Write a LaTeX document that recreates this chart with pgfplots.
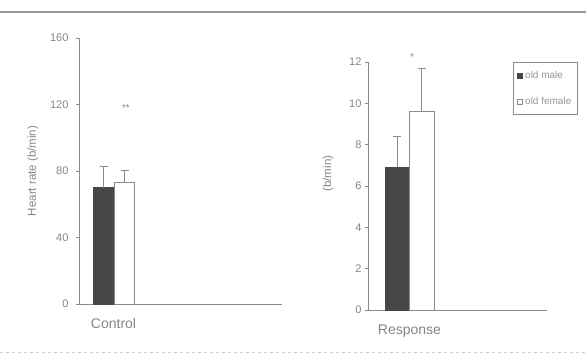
\documentclass[border=0pt]{standalone}
\usepackage{fontspec}
\setmainfont{Liberation Sans}
\usepackage{pgfplots}
\pgfplotsset{compat=1.18}

\definecolor{inkgray}{HTML}{858585}
\definecolor{axisgray}{HTML}{8A8A8A}
\definecolor{maledark}{HTML}{474747}
\definecolor{framegray}{HTML}{9A9A9A}

\pgfplotsset{
  panel/.style={
    scale only axis,
    axis lines*=left,
    axis line style={axisgray, line width=0.8pt},
    tick align=outside,
    major tick length=3pt,
    ytick style={axisgray, line width=0.8pt},
    xtick style={draw=none},
    xmin=0, ymin=0,
    clip=false,
    /pgf/number format/assume math mode=true,
    tick label style={font=\fontsize{11}{12}\selectfont, text=inkgray},
    xticklabel style={font=\fontsize{14}{15}\selectfont, text=inkgray, yshift=-8pt},
    ylabel style={font=\fontsize{11.5}{12}\selectfont, text=inkgray, anchor=center},
  },
  sdbar/.style={
    ybar, bar shift=0pt,
    error bars/y dir=plus, error bars/y explicit,
    error bars/error mark=-,
    error bars/error bar style={axisgray, line width=0.8pt},
    error bars/error mark options={axisgray, rotate=90, mark size=4pt, line width=0.9pt},
  },
}

\begin{document}
\begin{tikzpicture}[x=1pt,y=1pt]
% page rules
\draw[framegray, line width=1.5pt] (0,351) -- (586,351);
\draw[framegray!50, line width=0.8pt, dashed] (0,11) -- (586,11);

% resting heart rate
\begin{axis}[panel,
  at={(79pt,59pt)}, anchor=south west,
  width=203pt, height=266pt,
  xmax=203, ymax=160,
  ytick={0,40,80,120,160},
  yticklabel style={xshift=-4pt},
  xtick={34.5}, xticklabels={Control},
  ylabel={Heart rate (b/min)},
  ylabel style={at={(axis description cs:-0.227,0.5)}},
]
\addplot[sdbar, fill=maledark, draw=maledark, bar width=21pt]
  coordinates {(24.5,70) +- (0,12.5)};
\addplot[sdbar, fill=white, draw=axisgray, bar width=20pt]
  coordinates {(45.5,73.5) +- (0,7)};
\node[text=inkgray, font=\fontsize{10}{10}\selectfont] at (axis cs:47,118) {**};
\end{axis}

% heart rate response
\begin{axis}[panel,
  at={(368pt,53pt)}, anchor=south west,
  width=179pt, height=248pt,
  xmax=179, ymax=12,
  ytick={0,2,4,6,8,10,12},
  xtick={41.5}, xticklabels={Response},
  ylabel={(b/min)},
  ylabel style={at={(axis description cs:-0.223,0.55)}},
  legend style={at={(rel axis cs:0.81,1)}, anchor=north west,
    draw=axisgray, line width=0.8pt,
    font=\fontsize{10}{11}\selectfont, text=inkgray!85,
    inner xsep=4pt, inner ysep=7pt, row sep=13pt},
  legend cell align=left,
]
\addplot[sdbar, fill=maledark, draw=maledark, bar width=24pt,
  legend image code/.code={\draw[fill=maledark, draw=maledark] (0pt,-2.5pt) rectangle (5pt,2.5pt);}]
  coordinates {(29,6.9) +- (0,1.5)};
\addlegendentry{old male}
\addplot[sdbar, fill=white, draw=axisgray, bar width=25pt,
  legend image code/.code={\draw[fill=white, draw=axisgray] (0pt,-2.5pt) rectangle (5pt,2.5pt);}]
  coordinates {(53.5,9.6) +- (0,2.1)};
\addlegendentry{old female}
\node[text=inkgray, font=\fontsize{10}{10}\selectfont] at (axis cs:44,12.25) {*};
\end{axis}

\pgfresetboundingbox
\path[use as bounding box] (0,0) rectangle (586,363);
\end{tikzpicture}
\end{document}
